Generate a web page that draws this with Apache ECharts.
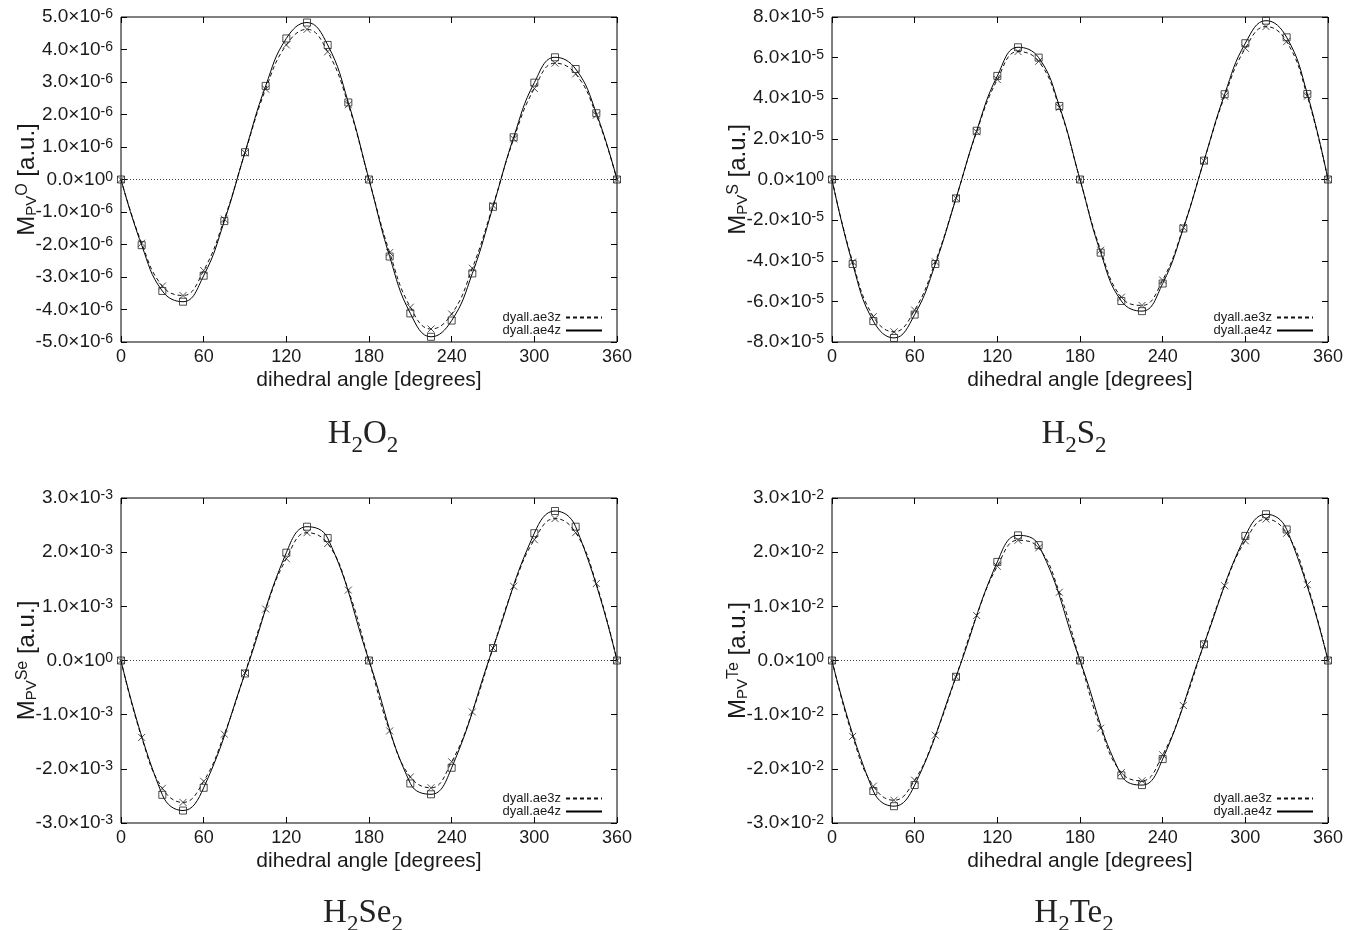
<!DOCTYPE html>
<html>
<head>
<meta charset="utf-8">
<script src="https://cdn.jsdelivr.net/npm/echarts@6.0.0/dist/echarts.min.js"></script>
<style>
  html, body { margin:0; padding:0; background:#fff; }
  #chart { width:1364px; height:930px; }
</style>
</head>
<body>
<div id="chart"></div>
<script>
/* Parity-violating energy vs dihedral angle – four gnuplot-like panels */

// --- dihedral angles (degrees)
const angles = [0, 15, 30, 45, 60, 75, 90, 105, 120, 135, 150, 165, 180,
  195, 210, 225, 240, 255, 270, 285, 300, 315, 330, 345, 360];
const anglesCoarse = [0, 30, 45, 60, 90, 120, 135, 150, 180,
  210, 225, 240, 270, 300, 315, 330, 360];

// --- H2O2, units of 1e-6 a.u.
const h2o2Ae3z = [0, -1.96, -3.28, -3.57, -2.80, -1.22, 0.82, 2.78, 4.14, 4.62, 3.93, 2.30, 0,
  -2.25, -3.93, -4.60, -4.14, -2.73, -0.80, 1.25, 2.80, 3.58, 3.25, 1.98, 0];
const h2o2Ae4z = [0, -2.02, -3.43, -3.76, -2.96, -1.28, 0.84, 2.88, 4.34, 4.83, 4.14, 2.37, 0,
  -2.37, -4.12, -4.84, -4.34, -2.89, -0.84, 1.30, 2.98, 3.76, 3.40, 2.04, 0];

// --- H2S2, units of 1e-5 a.u.
const h2s2Ae3z = [0, -4.06, -6.75, -7.50, -6.43, -4.05, -0.92, 2.35, 4.92, 6.30, 5.82, 3.55, 0,
  -3.48, -5.80, -6.20, -4.95, -2.36, 0.92, 4.10, 6.46, 7.53, 6.79, 4.10, 0];
const h2s2Ae4z = [0, -4.16, -6.97, -7.80, -6.65, -4.16, -0.93, 2.40, 5.10, 6.51, 6.00, 3.62, 0,
  -3.60, -5.98, -6.48, -5.12, -2.41, 0.93, 4.20, 6.71, 7.82, 7.00, 4.21, 0];

// --- H2Se2, units of 1e-3 a.u. (ae4z only on the coarse grid)
const h2se2Ae3z = [0, -1.42, -2.36, -2.62, -2.23, -1.36, -0.23, 0.95, 1.88, 2.36, 2.16, 1.30, 0,
  -1.30, -2.15, -2.35, -1.87, -0.95, 0.23, 1.37, 2.23, 2.62, 2.36, 1.42, 0];
const h2se2Ae4z = [0, -2.48, -2.77, -2.35, -0.24, 1.99, 2.47, 2.26, 0,
  -2.27, -2.47, -1.98, 0.23, 2.35, 2.76, 2.47, 0];

// --- H2Te2, units of 1e-2 a.u.
const h2te2Ae3z = [0, -1.40, -2.32, -2.58, -2.21, -1.38, -0.30, 0.83, 1.74, 2.22, 2.08, 1.26, 0,
  -1.25, -2.07, -2.22, -1.74, -0.83, 0.30, 1.38, 2.21, 2.61, 2.35, 1.40, 0];
const h2te2Ae4z = [0, -2.41, -2.69, -2.30, -0.30, 1.82, 2.31, 2.13, 0,
  -2.12, -2.30, -1.82, 0.30, 2.30, 2.70, 2.42, 0];

const seriesNames = ["dyall.ae3z", "dyall.ae4z"];

const panels = [
  { mol: "{a|H}{s|2}{a|O}{s|2}",  atom: "O",  exp: -6, max: 5, step: 1, ae3z: h2o2Ae3z,  ae4z: h2o2Ae4z,  x4z: angles },
  { mol: "{a|H}{s|2}{a|S}{s|2}",  atom: "S",  exp: -5, max: 8, step: 2, ae3z: h2s2Ae3z,  ae4z: h2s2Ae4z,  x4z: angles },
  { mol: "{a|H}{s|2}{a|Se}{s|2}", atom: "Se", exp: -3, max: 3, step: 1, ae3z: h2se2Ae3z, ae4z: h2se2Ae4z, x4z: anglesCoarse },
  { mol: "{a|H}{s|2}{a|Te}{s|2}", atom: "Te", exp: -2, max: 3, step: 1, ae3z: h2te2Ae3z, ae4z: h2te2Ae4z, x4z: anglesCoarse },
];

// --- layout (pixels)
const boxes = [[121, 17], [832, 17], [121, 498], [832, 498]];
const W = 496, H = 325;
const SANS = "'Liberation Sans', Arial, Helvetica, sans-serif";
const SERIF = "'Liberation Serif', 'DejaVu Serif', serif";
const INK = "#1a1a1a";

const zip = (xs, ys) => xs.map((x, i) => [x, ys[i]]);
const crossPath = "path://M0,0L10,10M0,10L10,0";

const grid = [], xAxis = [], yAxis = [], series = [], legend = [], graphic = [];

panels.forEach((p, i) => {
  const [left, top] = boxes[i];
  grid.push({ left, top, width: W, height: H, show: true, borderColor: "#000", borderWidth: 1,
    backgroundColor: "transparent", outerBoundsMode: "none" });

  const tick = { show: true, inside: true, length: 6, lineStyle: { color: "#000", width: 1 } };
  const noLine = { show: false, onZero: false };

  // --- x axes: bottom with labels, top mirror ticks
  xAxis.push({
    type: "value", gridIndex: i, min: 0, max: 360, interval: 60, position: "bottom",
    axisLine: noLine, axisTick: tick, splitLine: { show: false },
    axisLabel: { color: INK, fontFamily: SANS, fontSize: 18, margin: 6 },
    name: "dihedral angle [degrees]", nameLocation: "middle", nameGap: 28, nameMoveOverlap: false,
    nameTextStyle: { color: INK, fontFamily: SANS, fontSize: 21 },
  });
  xAxis.push({
    type: "value", gridIndex: i, min: 0, max: 360, interval: 60, position: "top",
    axisLine: noLine, axisTick: tick, axisLabel: { show: false }, splitLine: { show: false },
  });

  // --- y axes: left with scientific labels, right mirror ticks
  const fmt = (v) => {
    const m = Math.round(v * 10) / 10;
    if (m === 0) return "{b|0.0×10}{s|0}";
    return "{b|" + m.toFixed(1) + "×10}{s|" + p.exp + "}";
  };
  yAxis.push({
    type: "value", gridIndex: i, min: -p.max, max: p.max, interval: p.step, position: "left",
    axisLine: noLine, axisTick: tick, splitLine: { show: false },
    axisLabel: {
      formatter: fmt, margin: 8,
      rich: {
        b: { color: INK, fontFamily: SANS, fontSize: 19, lineHeight: 19, verticalAlign: "bottom" },
        s: { color: INK, fontFamily: SANS, fontSize: 14, lineHeight: 14, padding: [0, 0, 9, 0], verticalAlign: "top" },
      },
    },
    name: "{m|M}{sub|PV}{sup|" + p.atom + "}{m| [a.u.]}",
    nameLocation: "middle", nameRotate: 90, nameGap: 82, nameMoveOverlap: false,
    nameTextStyle: {
      rich: {
        m: { color: INK, fontFamily: SANS, fontSize: 24, lineHeight: 24, verticalAlign: "middle" },
        sub: { color: INK, fontFamily: SANS, fontSize: 15, lineHeight: 15, verticalAlign: "bottom" },
        sup: { color: INK, fontFamily: SANS, fontSize: 16, lineHeight: 16, padding: [0, 0, 20, 0], verticalAlign: "top" },
      },
    },
  });
  yAxis.push({
    type: "value", gridIndex: i, min: -p.max, max: p.max, interval: p.step, position: "right",
    axisLine: noLine, axisTick: tick, axisLabel: { show: false }, splitLine: { show: false },
  });

  const xi = 2 * i, yi = 2 * i;

  // --- smooth curves (legend entries)
  series.push({
    name: seriesNames[0], type: "line", xAxisIndex: xi, yAxisIndex: yi,
    data: zip(angles, p.ae3z), smooth: 0.45, symbol: "none", silent: true,
    itemStyle: { color: "#111" },
    lineStyle: { color: "#111", width: 1, type: [4, 3] }, z: 3,
  });
  series.push({
    name: seriesNames[1], type: "line", xAxisIndex: xi, yAxisIndex: yi,
    data: zip(p.x4z, p.ae4z), smooth: 0.45, symbol: "none", silent: true,
    itemStyle: { color: "#000" },
    lineStyle: { color: "#000", width: 1 }, z: 3,
    markLine: {
      silent: true, symbol: ["none", "none"], label: { show: false },
      lineStyle: { color: "#444", width: 1, type: [1, 2] },
      data: [{ yAxis: 0 }],
    },
  });

  // --- sample points
  series.push({
    name: "ae3z points", type: "scatter", xAxisIndex: xi, yAxisIndex: yi,
    data: zip(angles, p.ae3z), symbol: crossPath, symbolSize: 7, silent: true,
    itemStyle: { color: "transparent", borderColor: "#222", borderWidth: 1 }, z: 4,
  });
  series.push({
    name: "ae4z points", type: "scatter", xAxisIndex: xi, yAxisIndex: yi,
    data: zip(p.x4z, p.ae4z), symbol: "rect", symbolSize: 7, silent: true,
    itemStyle: { color: "transparent", borderColor: "#222", borderWidth: 1 }, z: 5,
  });

  // --- in-plot legend, bottom right, text left of line sample (no symbol)
  legend.push({
    data: seriesNames, orient: "vertical", align: "right",
    right: 1364 - (left + W - 14), top: top + H - 31,
    itemWidth: 36, itemHeight: 10, itemGap: 0, padding: 0, selectedMode: false,
    itemStyle: { color: "transparent", borderWidth: 0, opacity: 0 },
    textStyle: { color: INK, fontFamily: SANS, fontSize: 13, lineHeight: 13 },
  });

  // --- molecule caption under each panel
  graphic.push({
    type: "text", x: left + W / 2 - 6, y: i < 2 ? 434 : 913,
    style: {
      text: p.mol, align: "center", verticalAlign: "middle",
      rich: {
        a: { fill: "#222", fontFamily: SERIF, fontSize: 33, lineHeight: 33, verticalAlign: "top" },
        s: { fill: "#222", fontFamily: SERIF, fontSize: 23, lineHeight: 23, padding: [17, 0, 0, 0], verticalAlign: "top" },
      },
    },
  });
});

const chart = echarts.init(document.getElementById("chart"), null, { renderer: "canvas" });
chart.setOption({
  animation: false,
  backgroundColor: "#fff",
  grid, xAxis, yAxis, series, legend, graphic,
});
</script>
</body>
</html>
